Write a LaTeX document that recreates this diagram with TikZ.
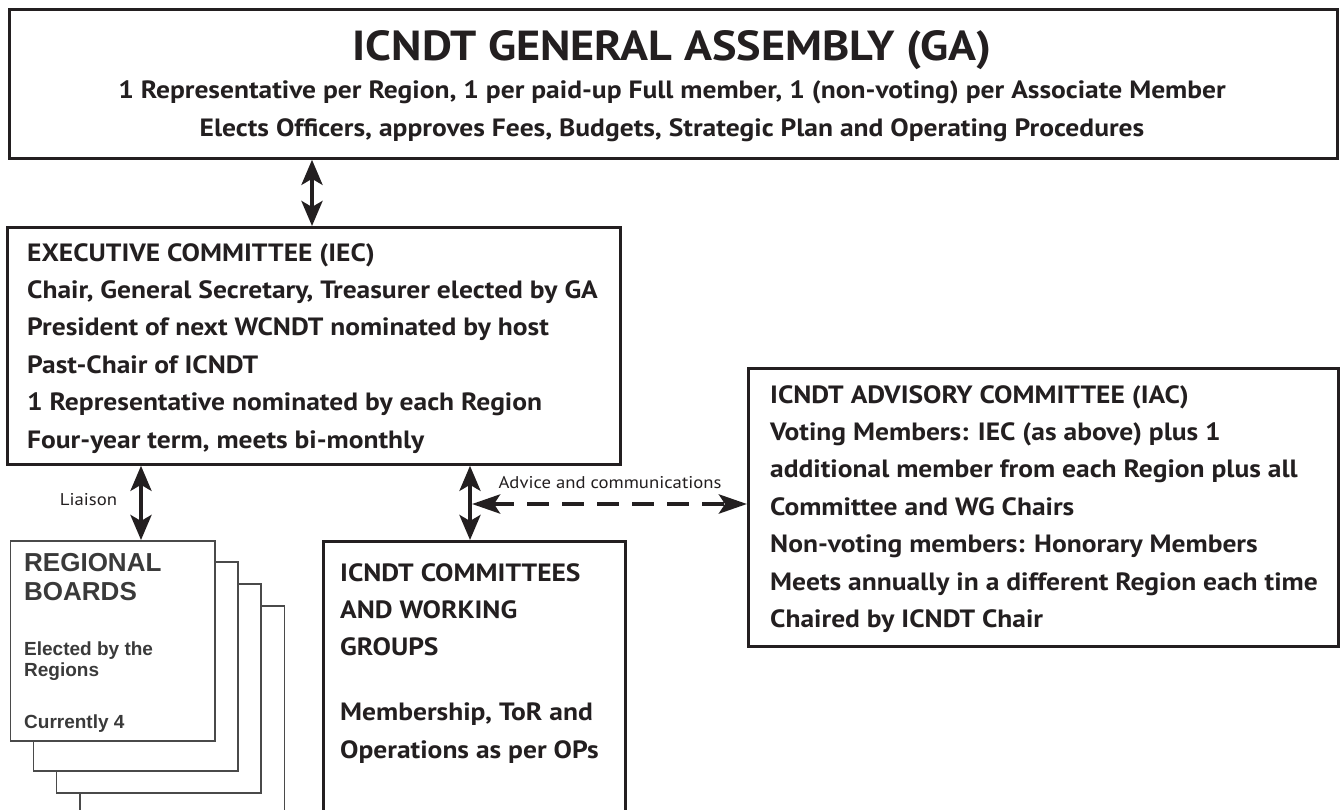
\documentclass[tikz,border=0pt]{standalone}
\usepackage{fontspec}
\setmainfont[FakeStretch=1.10]{PT Sans}
\newfontfamily\arialf{Liberation Sans}
\usetikzlibrary{arrows.meta}
\definecolor{ink}{HTML}{231F20}
\definecolor{rbgray}{HTML}{3A3A3A}
\definecolor{rbline}{HTML}{4A4A4A}
\begin{document}
\begin{tikzpicture}[x=1pt,y=-1pt,
  box/.style={draw=ink, line width=2.8pt, fill=white, inner sep=0pt, anchor=north west},
  rbbox/.style={draw=rbline, line width=1.5pt, fill=white, inner sep=0pt, anchor=north west, minimum width=204.5pt},
  txt/.style={inner sep=0pt, text=ink, font=\bfseries\fontsize{25}{37.4}\selectfont, align=left, anchor=north west},
  gatxt/.style={inner sep=0pt, text=ink, font=\bfseries\fontsize{25}{28}\selectfont, anchor=base},
  rbhead/.style={inner sep=0pt, text=rbgray, font=\arialf\bfseries\fontsize{26}{29}\selectfont, anchor=base west},
  rbsub/.style={inner sep=0pt, text=rbgray, font=\arialf\bfseries\fontsize{19}{21}\selectfont, anchor=base west},
  small/.style={inner sep=0pt, text=ink, font=\fontsize{17}{20}\selectfont},
  dbl/.style={line width=4pt, draw=ink, {Stealth[length=25pt,width=21pt,inset=6pt]}-{Stealth[length=25pt,width=21pt,inset=6pt]}},
  dsh/.style={line width=4.5pt, draw=ink, dash pattern=on 22pt off 13pt, {Stealth[length=28pt,width=19pt,inset=6pt]}-{Stealth[length=28pt,width=19pt,inset=6pt]}}
]
\useasboundingbox (0,0) rectangle (1343,809);
\clip (0,0) rectangle (1343,809);
\fill[white] (0,0) rectangle (1343,809);

% General Assembly
\node[box, minimum width=1328pt, minimum height=149pt] (ga) at (8,8) {};
\node[gatxt, font=\bfseries\fontsize{42}{44}\selectfont] (gatitle) at (672,60) {ICNDT GENERAL ASSEMBLY (GA)};
\node[gatxt] (gal1) at (672,98) {1 Representative per Region, 1 per paid-up Full member, 1 (non-voting) per Associate Member};
\node[gatxt] (gal2) at (672,136.5) {Elects Officers, approves Fees, Budgets, Strategic Plan and Operating Procedures};

% Executive committee
\node[box, minimum width=613pt, minimum height=237pt] (iec) at (6,226) {};
\node[txt] (iectxt) at (27,243) {EXECUTIVE COMMITTEE (IEC)\\
Chair, General Secretary, Treasurer elected by GA\\
President of next WCNDT nominated by host\\
Past-Chair of ICNDT\\
1 Representative nominated by each Region\\
Four-year term, meets bi-monthly};

% Advisory committee
\node[box, minimum width=590pt, minimum height=278pt] (iac) at (747,367) {};
\node[txt] (iactxt) at (770,385) {ICNDT ADVISORY COMMITTEE (IAC)\\
Voting Members: IEC (as above) plus 1\\
additional member from each Region plus all\\
Committee and WG Chairs\\
Non-voting members: Honorary Members\\
Meets annually in a different Region each time\\
Chaired by ICNDT Chair};

% Committees and working groups
\node[box, minimum width=302pt, minimum height=300pt] (cwg) at (322,540) {};
\node[txt] (cwgtxt) at (340,563) {ICNDT COMMITTEES\\
AND WORKING\\
GROUPS\\[27.5pt]
Membership, ToR and\\
Operations as per OPs};

% Regional boards (stack)
\node[rbbox, minimum height=230pt] (rb4) at (79,605) {};
\node[rbbox, minimum height=209pt] (rb3) at (55.5,583) {};
\node[rbbox, minimum height=209pt] (rb2) at (32.5,561) {};
\node[rbbox, minimum height=200pt] (rb1) at (9.5,540) {};
\node[rbhead] (rbh1) at (24,571) {REGIONAL};
\node[rbhead] (rbh2) at (24,600) {BOARDS};
\node[rbsub] (rbs1) at (24,655) {Elected by the};
\node[rbsub] (rbs2) at (24,676) {Regions};
\node[rbsub] (rbs3) at (24,728) {Currently 4};

% connectors
\coordinate (xga) at (312,0);
\coordinate (xrb) at (141,0);
\coordinate (xcw) at (470,0);
\coordinate (mid) at (472,504);
\draw[dbl] (ga.south -| xga) -- (iec.north -| xga);
\draw[dbl] (iec.south -| xrb) -- (rb1.north -| xrb);
\draw[dbl] (iec.south -| xcw) -- (cwg.north -| xcw);
\draw[dsh] (mid) -- (mid -| iac.west);

\node[small] (liaison) at (88.5,500) {Liaison};
\node[small] (advice) at (610,483) {Advice and communications};
\end{tikzpicture}
\end{document}
